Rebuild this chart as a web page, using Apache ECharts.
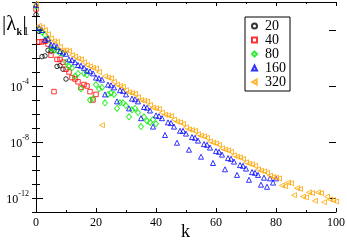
<!DOCTYPE html>
<html>
<head>
<meta charset="utf-8">
<script src="https://cdn.jsdelivr.net/npm/echarts@6/dist/echarts.min.js"></script>
<style>
  html, body { margin: 0; padding: 0; background: #fff; }
  #chart { width: 347px; height: 241px; }
</style>
</head>
<body>
<div id="chart"></div>
<script>
// log10 |lambda_k| for k = 0, 1, 2, ...
var logN20 = [1.1, -0.1, -1.9, -1.85, -1.45, -1.5, -1.45, -2.6, -2.55, -2.8, -3.5];

var logN40 = [1.5, -0.85, -0.85, -0.8, -1.0, -1.8, -4.4, -2.1, -2.1, -2.3,
  -2.8, -3.0, -3.4, -3.5, -3.7, -4.1, -3.9, -4.0, -4.4, -5.0,
  -4.6];

var logN80 = [1.7, 0.05, -0.15, -0.35, -0.7, -1.3, -1.45, -1.45, -1.65, -1.7,
  -2.3, -2.6, -2.7, -3.3, -3.1, -4.2, -3.1, -3.2, -5.0, -4.9,
  -3.9, -4.2, -4.1, -5.2, -4.6, -4.5, -4.6, -5.6, -5.2, -5.2,
  -5.4, -6.2, -5.7, -5.6, -5.9, -6.9, -6.2, -6.5, -6.6, -6.4,
  -6.7];

var logN160 = [1.8, 0.15, 0.0, -0.7, -0.6, -1.05, -1.1, -1.2, -1.5, -1.6,
  -1.7, -2.1, -2.15, -2.3, -2.5, -2.55, -2.7, -2.9, -2.95, -3.1,
  -3.4, -3.45, -3.55, -4.6, -3.9, -3.95, -4.1, -5.1, -4.3, -4.35,
  -4.6, -5.6, -4.9, -4.95, -5.1, -6.3, -5.5, -5.55, -5.75, -6.9,
  -6.1, -6.15, -6.3, -7.5, -6.6, -6.65, -6.9, -8.05, -7.2, -7.2,
  -7.4, -8.55, -7.65, -7.7, -7.9, -9.05, -8.15, -8.2, -8.4, -9.5,
  -8.65, -8.7, -8.9, -9.95, -9.15, -9.2, -9.4, -10.35, -9.65, -9.7,
  -9.9, -10.7, -10.15, -10.2, -10.35, -11.05, -10.55, -11.2, -10.6, -10.9,
  -10.6];

var logN320 = [1.85, 0.3, 0.2, 0.0, -0.3, -0.6, -0.8, -0.85, -1.2, -1.45,
  -1.45, -1.5, -1.8, -1.9, -2.05, -2.1, -2.3, -2.5, -2.6, -2.7,
  -2.75, -3.0, -6.8, -3.3, -3.4, -3.45, -3.7, -3.9, -4.0, -4.05,
  -4.3, -4.45, -4.5, -4.55, -4.8, -5.0, -5.05, -5.1, -5.35, -5.55,
  -5.6, -5.65, -5.9, -6.05, -6.1, -6.15, -6.4, -6.55, -6.6, -6.7,
  -6.95, -7.1, -7.15, -7.2, -7.45, -7.55, -7.6, -7.7, -7.95, -8.05,
  -8.1, -8.2, -8.45, -8.55, -8.6, -8.7, -8.95, -9.05, -9.1, -9.2,
  -9.45, -9.55, -9.6, -9.7, -9.95, -10.05, -10.1, -10.2, -10.4, -10.5,
  -10.55, -10.6, -11.1, -11.15, -10.9, -10.95, -11.8, -11.3, -11.35, -11.9,
  -11.95, -11.6, -11.65, -12.2, -11.6, -11.65, -12.3, -11.9, -12.1, -12.15,
  -12.25];

var names = ['20', '40', '80', '160', '320'];
var logData = [logN20, logN40, logN80, logN160, logN320];
var colors = ['#000000', '#ff0000', '#00e800', '#0000ff', '#ffa500'];
var symbols = ['circle', 'rect', 'diamond', 'triangle', 'path://M0,5L9,0L9,10Z'];
var symbolSizes = [4.5, 4.5, [5, 6], 5, [5, 5]];

var xTickLabels = [0, 20, 40, 60, 80, 100];
var yLabelExps = [-12, -8, -4, 0];

var serif = '"Liberation Serif", "DejaVu Serif", serif';

var chart = echarts.init(document.getElementById('chart'), null, {renderer: 'canvas'});

var series = names.map(function (n, i) {
  return {
    name: n,
    type: 'scatter',
    xAxisIndex: 0,
    yAxisIndex: 0,
    symbol: symbols[i],
    symbolSize: symbolSizes[i],
    itemStyle: {color: 'rgba(0,0,0,0)', borderColor: colors[i], borderWidth: 1},
    data: logData[i].map(function (e, k) { return [k, Math.pow(10, e)]; }),
    silent: true
  };
});

function yAxisBase(pos) {
  return {
    type: 'log',
    logBase: 10,
    position: pos,
    min: 1e-13,
    max: 1e2,
    interval: 1,
    splitLine: {show: false},
    axisLine: {show: true, lineStyle: {color: '#000', width: 1}},
    axisTick: {show: true, inside: true, length: 4, lineStyle: {color: '#000'}},
    axisLabel: {show: false}
  };
}

var yLeft = yAxisBase('left');
yLeft.axisLabel = {
  show: true,
  margin: 7,
  fontFamily: serif,
  color: '#000',
  formatter: function (v) {
    var e = Math.round(Math.log10(v));
    if (yLabelExps.indexOf(e) < 0) return '';
    if (e === 0) return '{b|1}';
    return '{b|10}{s|' + e + '}';
  },
  rich: {
    b: {fontFamily: serif, fontSize: 12, color: '#000', lineHeight: 16, verticalAlign: 'bottom'},
    s: {fontFamily: serif, fontSize: 8, color: '#000', verticalAlign: 'top'}
  }
};
var yRight = yAxisBase('right');

var longTickValues = yLabelExps.map(function (e) { return Math.pow(10, e); });
function yLong(pos) {
  var a = yAxisBase(pos);
  a.axisLine = {show: false};
  a.axisTick = {show: true, inside: true, length: 7, customValues: longTickValues, lineStyle: {color: '#000'}};
  return a;
}

function xAxisBase(pos, labels) {
  return {
    type: 'value',
    position: pos,
    min: 0,
    max: 100,
    interval: 20,
    splitLine: {show: false},
    axisLine: {show: true, onZero: false, lineStyle: {color: '#000', width: 1}},
    axisTick: {show: true, inside: true, length: 4, lineStyle: {color: '#000'}},
    minorTick: {show: true, splitNumber: 2, length: 2, lineStyle: {color: '#000'}},
    axisLabel: {
      show: labels,
      margin: 5,
      fontFamily: serif,
      fontSize: 12,
      color: '#000',
      formatter: function (v) { return xTickLabels.indexOf(v) >= 0 ? String(v) : ''; }
    }
  };
}

var option = {
  backgroundColor: '#fff',
  animation: false,
  grid: {left: 36, right: 11, top: 2, bottom: 29, containLabel: false, outerBoundsMode: 'none'},
  xAxis: [xAxisBase('bottom', true), xAxisBase('top', false)],
  yAxis: [yLeft, yRight, yLong('left'), yLong('right')],
  legend: {
    orient: 'vertical',
    left: 245,
    top: 17,
    padding: [2, 4, 2, 6],
    itemGap: 0,
    itemWidth: 5,
    itemHeight: 5,
    borderColor: '#000',
    borderWidth: 1,
    backgroundColor: '#fff',
    textStyle: {fontFamily: serif, fontSize: 14, color: '#000', lineHeight: 11.6, padding: [0, 0, 0, 3]},
    data: names
  },
  graphic: [
    {type: 'text', left: 2, top: 14, style: {text: '|λ', font: '21px ' + serif, fill: '#000'}},
    {type: 'text', left: 16.5, top: 27, style: {text: 'k', font: 'bold 10px ' + serif, fill: '#000'}},
    {type: 'text', left: 22.5, top: 14, style: {text: '|', font: '21px ' + serif, fill: '#000'}},
    {type: 'text', left: 181, top: 223, style: {text: 'k', font: '18px ' + serif, fill: '#000'}}
  ],
  series: series
};

chart.setOption(option);
</script>
</body>
</html>
